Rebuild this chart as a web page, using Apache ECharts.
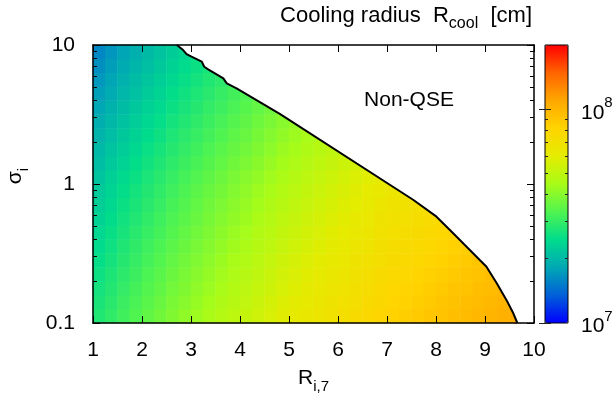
<!DOCTYPE html>
<html><head><meta charset="utf-8">
<script src="https://cdn.jsdelivr.net/npm/echarts@6/dist/echarts.min.js"></script>
<style>html,body{margin:0;padding:0;background:#fff}#c{width:616px;height:401px}</style>
</head><body><div id="c"></div>
<script>
const FONT = '"Liberation Sans", Arial, Helvetica, sans-serif';

// heatmap cell centres (R_i,7) and row centres (sigma_i)
const xCellCentres = [1.125,1.375,1.625,1.875,2.125,2.375,2.625,2.875,3.125,3.375,3.625,3.875,4.125,4.375,4.625,4.875,5.125,5.375,5.625,5.875,6.125,6.375,6.625,6.875,7.125,7.375,7.625,7.875,8.125,8.375,8.625,8.875,9.125,9.375,9.625,9.875];
const sigmaRowCentres = [0.112,0.141,0.178,0.224,0.282,0.355,0.447,0.562,0.708,0.891,1.12,1.41,1.78,2.24,2.82,3.55,4.47,5.62,7.08,8.91];

// log10 of cooling radius [cm] per row, bottom row first (QSE region only)
const logRcoolRow0 = [7.443,7.469,7.495,7.521,7.546,7.568,7.592,7.614,7.635,7.655,7.674,7.694,7.713,7.733,7.752,7.772,7.789,7.806,7.822,7.839,7.854,7.871,7.887,7.904,7.917,7.929,7.940,7.952,7.962,7.974,7.984,7.995,8.005,8.017,8.027];
const logRcoolRow1 = [7.432,7.458,7.484,7.510,7.535,7.557,7.581,7.603,7.624,7.644,7.663,7.683,7.702,7.722,7.741,7.761,7.778,7.795,7.811,7.828,7.843,7.860,7.876,7.893,7.906,7.918,7.929,7.941,7.951,7.963,7.973,7.984,7.994,8.006,8.016];
const logRcoolRow2 = [7.421,7.447,7.473,7.499,7.524,7.546,7.570,7.592,7.613,7.633,7.652,7.672,7.691,7.711,7.730,7.750,7.767,7.784,7.800,7.817,7.832,7.849,7.865,7.882,7.895,7.907,7.918,7.930,7.940,7.952,7.962,7.973,7.983,7.995];
const logRcoolRow3 = [7.410,7.436,7.462,7.488,7.513,7.535,7.559,7.581,7.602,7.622,7.641,7.661,7.680,7.700,7.719,7.739,7.756,7.773,7.789,7.806,7.821,7.838,7.854,7.871,7.884,7.896,7.907,7.919,7.929,7.941,7.951,7.962,7.972];
const logRcoolRow4 = [7.399,7.425,7.451,7.477,7.502,7.524,7.548,7.570,7.591,7.611,7.630,7.650,7.669,7.689,7.708,7.728,7.745,7.762,7.778,7.795,7.810,7.827,7.843,7.860,7.873,7.885,7.896,7.908,7.918,7.930,7.940,7.951,7.961];
const logRcoolRow5 = [7.388,7.414,7.440,7.466,7.491,7.513,7.537,7.559,7.580,7.600,7.619,7.639,7.658,7.678,7.697,7.717,7.734,7.751,7.767,7.784,7.799,7.816,7.832,7.849,7.862,7.874,7.885,7.897,7.907,7.919,7.929,7.940];
const logRcoolRow6 = [7.377,7.403,7.429,7.455,7.480,7.502,7.526,7.548,7.569,7.589,7.608,7.628,7.647,7.667,7.686,7.706,7.723,7.740,7.756,7.773,7.788,7.805,7.821,7.838,7.851,7.863,7.874,7.886,7.896,7.908];
const logRcoolRow7 = [7.366,7.392,7.418,7.444,7.469,7.491,7.515,7.537,7.558,7.578,7.597,7.617,7.636,7.656,7.675,7.695,7.712,7.729,7.745,7.762,7.777,7.794,7.810,7.827,7.840,7.852,7.863,7.875,7.885];
const logRcoolRow8 = [7.355,7.381,7.407,7.433,7.458,7.480,7.504,7.526,7.547,7.567,7.586,7.606,7.625,7.645,7.664,7.684,7.701,7.718,7.734,7.751,7.766,7.783,7.799,7.816,7.829,7.841,7.852,7.864];
const logRcoolRow9 = [7.344,7.370,7.396,7.422,7.447,7.469,7.493,7.515,7.536,7.556,7.575,7.595,7.614,7.634,7.653,7.673,7.690,7.707,7.723,7.740,7.755,7.772,7.788,7.805,7.818,7.830];
const logRcoolRow10 = [7.331,7.357,7.383,7.409,7.434,7.456,7.480,7.502,7.523,7.543,7.562,7.582,7.601,7.621,7.640,7.660,7.677,7.694,7.710,7.727,7.742,7.759,7.775,7.792,7.805];
const logRcoolRow11 = [7.316,7.342,7.368,7.394,7.419,7.441,7.465,7.487,7.508,7.528,7.547,7.567,7.586,7.606,7.625,7.645,7.662,7.679,7.695,7.712,7.727,7.744,7.760];
const logRcoolRow12 = [7.302,7.328,7.354,7.380,7.405,7.427,7.451,7.473,7.494,7.514,7.533,7.553,7.572,7.592,7.611,7.631,7.648,7.665,7.681,7.698,7.713];
const logRcoolRow13 = [7.288,7.314,7.340,7.366,7.391,7.413,7.437,7.459,7.480,7.500,7.519,7.539,7.558,7.578,7.597,7.617,7.634,7.651,7.667];
const logRcoolRow14 = [7.274,7.300,7.326,7.352,7.377,7.399,7.423,7.445,7.466,7.486,7.505,7.525,7.544,7.564,7.583,7.603,7.620,7.637];
const logRcoolRow15 = [7.259,7.285,7.311,7.337,7.362,7.384,7.408,7.430,7.451,7.471,7.490,7.510,7.529,7.549,7.568,7.588];
const logRcoolRow16 = [7.245,7.271,7.297,7.323,7.348,7.370,7.394,7.416,7.437,7.457,7.476,7.496,7.515,7.535];
const logRcoolRow17 = [7.231,7.257,7.283,7.309,7.334,7.356,7.380,7.402,7.423,7.443,7.462,7.482];
const logRcoolRow18 = [7.216,7.242,7.268,7.294,7.319,7.341,7.365,7.387,7.408,7.428];
const logRcoolRow19 = [7.202,7.228,7.254,7.280,7.305,7.327,7.351,7.373,7.394];
const logRcoolRows = [logRcoolRow0,logRcoolRow1,logRcoolRow2,logRcoolRow3,logRcoolRow4,logRcoolRow5,logRcoolRow6,logRcoolRow7,logRcoolRow8,logRcoolRow9,
  logRcoolRow10,logRcoolRow11,logRcoolRow12,logRcoolRow13,logRcoolRow14,logRcoolRow15,logRcoolRow16,logRcoolRow17,logRcoolRow18,logRcoolRow19];

// QSE / Non-QSE boundary
const boundaryR = [2.71,2.84,2.91,3.01,3.22,3.27,3.35,3.66,3.73,3.93,4.82,7.54,8.01,8.35,8.69,9.03,9.24,9.44,9.58,9.66];
const boundarySigma = [10,9.2,8.61,8.24,7.59,6.98,6.68,5.75,5.30,4.88,3.18,0.767,0.582,0.442,0.335,0.254,0.193,0.146,0.117,0.1];

// ticks
const xTicks = [1,2,3,4,5,6,7,8,9,10];
const sigmaMajorTicks = [0.1,1,10];
const sigmaMinorTicks = [0.2,0.3,0.4,0.5,0.6,0.7,0.8,0.9,2,3,4,5,6,7,8,9];
const cbMajorTicks = [1e7,1e8];
const cbMinorTicks = [2e7,3e7,4e7,5e7,6e7,7e7,8e7,9e7];
const cbMin = 1e7, cbMax = 2e8;
const palette = ['#0000ff','#0060d8','#00a8b4','#00dc8c','#50f450','#a8fc18','#e4ec00','#ffd400','#ffa800','#ff6400','#ff0000'];

const heatData = [];
logRcoolRows.forEach((row, r) => row.forEach((v, k) => heatData.push([k, r, v])));
const boundaryData = boundaryR.map((x, i) => [x, boundarySigma[i]]);
const maskData = boundaryData.concat([[10, 0.1]]);

function subRich(size, subSize) {
  return {
    n: {fontSize: size, fontFamily: FONT, color: '#000', verticalAlign: 'top'},
    s: {fontSize: subSize, fontFamily: FONT, color: '#000', verticalAlign: 'bottom', padding: [11,0,0,0]}
  };
}
const supRich = {
  b: {fontSize: 21, fontFamily: FONT, color: '#000', verticalAlign: 'bottom', padding: [7,0,0,0]},
  p: {fontSize: 15, fontFamily: FONT, color: '#000', verticalAlign: 'top'}
};
const black = {color: '#000', width: 1.5};

function sigmaAxis(pos, ticks, len, withLine, withLabel) {
  return {
    type: 'log', logBase: 10, gridIndex: 1, position: pos, min: 0.1, max: 10, z: 10,
    axisLine: {show: withLine, onZero: false, lineStyle: black},
    axisTick: {show: true, inside: true, length: len, customValues: ticks, lineStyle: {color: '#000', width: 1}},
    axisLabel: withLabel ? {show: true, customValues: sigmaMajorTicks, fontSize: 21, fontFamily: FONT, color: '#000', margin: 18,
      formatter: v => (v < 0.5 ? '0.1' : v < 5 ? '1' : '10')} : {show: false},
    splitLine: {show: false}, minorTick: {show: false}
  };
}
function cbAxis(pos, ticks, len, withLabel) {
  return {
    type: 'log', logBase: 10, gridIndex: 2, position: pos, min: cbMin, max: cbMax, z: 10,
    axisLine: {show: false},
    axisTick: {show: true, inside: true, length: len, customValues: ticks, lineStyle: {color: '#222', width: 1}},
    axisLabel: withLabel ? {show: true, customValues: cbMajorTicks, margin: 13, rich: supRich,
      formatter: v => '{b|10}{p|' + Math.round(Math.log10(v)) + '}'} : {show: false},
    splitLine: {show: false}
  };
}

const option = {
  animation: false,
  backgroundColor: '#fff',
  title: {
    text: '{n|Cooling radius  R}{s|cool}{n|  [cm]}',
    right: 84, top: 5, padding: 0,
    textStyle: {fontSize: 22, fontWeight: 'normal', fontFamily: FONT, color: '#000', rich: subRich(22, 16)}
  },
  grid: [
    {left: 93, top: 45, width: 441, height: 278, outerBoundsMode: 'none', containLabel: false},
    {left: 93, top: 45, width: 441, height: 278, outerBoundsMode: 'none', containLabel: false, z: 10},
    {left: 545, top: 45, width: 23, height: 278, outerBoundsMode: 'none', containLabel: false, show: true,
     borderColor: '#000', borderWidth: 1, backgroundColor: 'transparent', z: 10}
  ],
  xAxis: [
    {type: 'category', gridIndex: 0, data: xCellCentres, show: false},
    {type: 'value', gridIndex: 1, position: 'bottom', min: 1, max: 10, interval: 1, z: 10,
     axisLine: {show: true, onZero: false, lineStyle: black},
     axisTick: {show: true, inside: true, length: 7, customValues: xTicks, lineStyle: {color: '#000', width: 1}},
     axisLabel: {fontSize: 21, fontFamily: FONT, color: '#000', margin: 17},
     splitLine: {show: false},
     name: '{n|R}{s|i,7}', nameLocation: 'middle', nameGap: 45,
     nameTextStyle: {fontSize: 21, fontFamily: FONT, color: '#000', rich: subRich(21, 15)}},
    {type: 'value', gridIndex: 1, position: 'top', min: 1, max: 10, interval: 1, z: 10,
     axisLine: {show: true, onZero: false, lineStyle: black},
     axisTick: {show: true, inside: true, length: 7, customValues: xTicks, lineStyle: {color: '#000', width: 1}},
     axisLabel: {show: false}, splitLine: {show: false}},
    {type: 'value', gridIndex: 2, min: 0, max: 1, show: false}
  ],
  yAxis: [
    {type: 'category', gridIndex: 0, data: sigmaRowCentres, show: false},
    Object.assign(sigmaAxis('left', sigmaMajorTicks, 7, true, true), {
      name: '{n|σ}{s|i}', nameLocation: 'middle', nameGap: 62,
      nameTextStyle: {fontSize: 21, fontFamily: FONT, color: '#000', padding: [0, 0, 0, 16], rich: subRich(21, 15)}
    }),
    sigmaAxis('left', sigmaMinorTicks, 4, false, false),
    sigmaAxis('right', sigmaMajorTicks, 7, true, false),
    sigmaAxis('right', sigmaMinorTicks, 4, false, false),
    cbAxis('right', cbMajorTicks, 6, true),
    cbAxis('right', cbMinorTicks, 3, false),
    cbAxis('left', cbMajorTicks, 6, false),
    cbAxis('left', cbMinorTicks, 3, false)
  ],
  visualMap: {
    type: 'continuous', seriesIndex: 0, dimension: 2,
    min: Math.log10(cbMin), max: Math.log10(cbMax),
    inRange: {color: palette},
    show: true, calculable: false, text: null, showLabel: false,
    left: 545, top: 45, itemWidth: 23, itemHeight: 278, padding: 0, orient: 'vertical',
    hoverLink: false
  },
  graphic: [{
    type: 'text', x: 409, y: 100, z: 20,
    style: {text: 'Non-QSE', fontSize: 21, fontFamily: FONT, fill: '#000', align: 'center', verticalAlign: 'middle'}
  }],
  series: [
    {type: 'heatmap', xAxisIndex: 0, yAxisIndex: 0, data: heatData, z: 1, silent: true, itemStyle: {borderWidth: 0}},
    {type: 'line', xAxisIndex: 1, yAxisIndex: 1, data: maskData, symbol: 'none', silent: true, z: 3,
     lineStyle: {width: 0, opacity: 0}, areaStyle: {color: '#fff', opacity: 1, origin: 'end'}},
    {type: 'line', xAxisIndex: 1, yAxisIndex: 1, data: boundaryData, symbol: 'none', silent: true, z: 4,
     lineStyle: {color: '#000', width: 2}}
  ]
};
const chart = echarts.init(document.getElementById('c'), null, {renderer: 'canvas'});
chart.setOption(option);
</script>
</body></html>
